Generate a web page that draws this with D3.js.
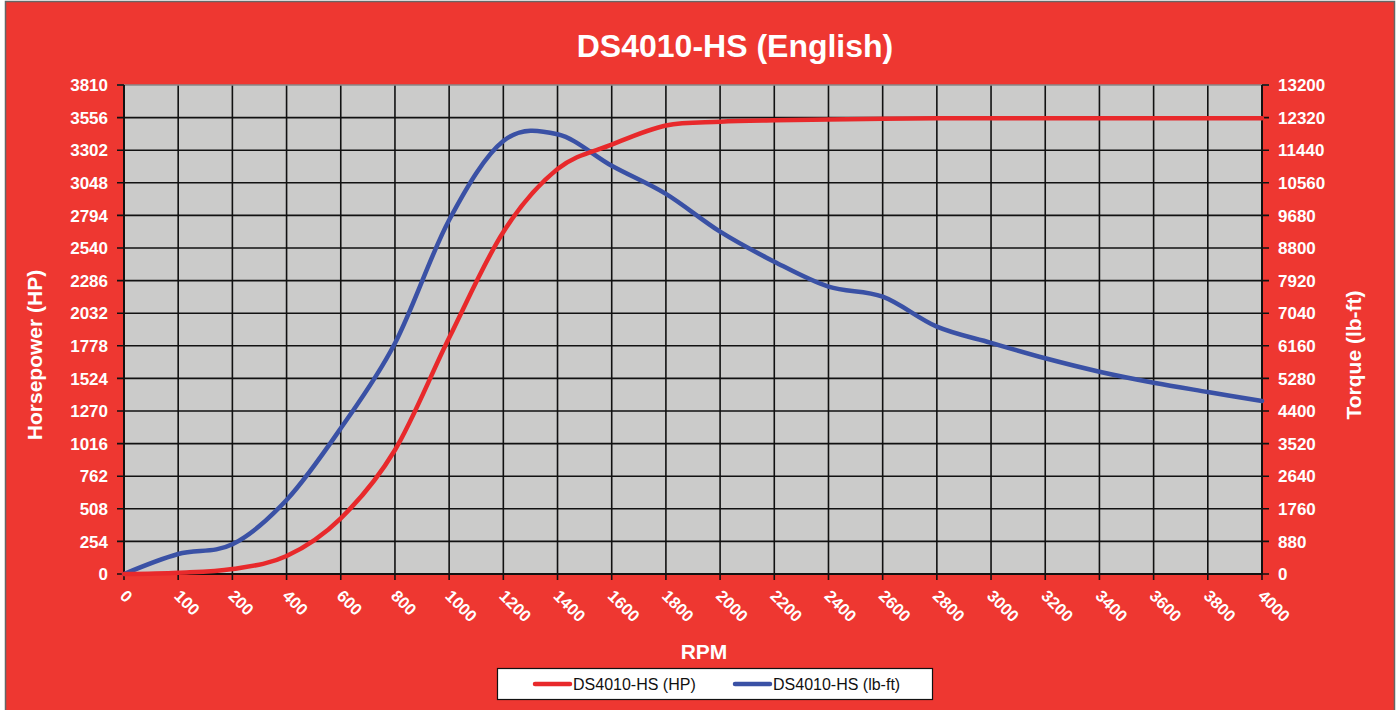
<!DOCTYPE html>
<html>
<head>
<meta charset="utf-8">
<script src="https://cdn.jsdelivr.net/npm/d3@7"></script>
<style>
  body { margin: 0; background: #fff; }
  svg text { font-family: "Liberation Sans", Arial, sans-serif; }
</style>
</head>
<body>
<svg id="chart" width="1400" height="710"></svg>
<script>
// data
const rpm = ["0", "100", "200", "400", "600", "800", "1000", "1200", "1400", "1600", "1800",
  "2000", "2200", "2400", "2600", "2800", "3000", "3200", "3400", "3600", "3800", "4000"];
const horsepower = [0, 10, 39, 140, 434, 966, 1840, 2665, 3155, 3345, 3495,
  3524, 3535, 3541, 3548, 3550, 3550, 3550, 3550, 3550, 3550, 3550];
const torque = [0, 540, 802, 1998, 3933, 6228, 9555, 11690, 11870, 11020, 10260,
  9240, 8431, 7756, 7486, 6676, 6240, 5823, 5461, 5164, 4913, 4670];
const hpTicks = [0, 254, 508, 762, 1016, 1270, 1524, 1778, 2032, 2286, 2540, 2794, 3048, 3302, 3556, 3810];
const torqueTicks = [0, 880, 1760, 2640, 3520, 4400, 5280, 6160, 7040, 7920, 8800, 9680, 10560, 11440, 12320, 13200];
const seriesNames = ["DS4010-HS (HP)", "DS4010-HS (lb-ft)"];
const seriesColors = ["#e8292b", "#3a51a5"];

const svg = d3.select("#chart");
const plotL = 124, plotR = 1262, plotT = 85, plotB = 574;
const bg = "#ee3731";

svg.append("rect")
    .attr("x", 5.5).attr("y", 1.5)
    .attr("width", 1389).attr("height", 720)
    .attr("fill", bg)
    .attr("stroke", "#666").attr("stroke-width", 1.5);

const x = d3.scalePoint().domain(rpm).range([plotL, plotR]);
const yHp = d3.scaleLinear().domain([0, 3810]).range([plotB, plotT]);
const yTq = d3.scaleLinear().domain([0, 13200]).range([plotB, plotT]);

// plot area
svg.append("rect")
    .attr("x", plotL).attr("y", plotT)
    .attr("width", plotR - plotL).attr("height", plotB - plotT)
    .attr("fill", "#cbcbca");

// grid
const grid = svg.append("g").attr("stroke", "#111").attr("stroke-width", 1.6);
grid.selectAll(".gx").data(rpm).join("line")
    .attr("x1", d => x(d)).attr("x2", d => x(d))
    .attr("y1", plotT).attr("y2", plotB + 6);
grid.selectAll(".gy").data(hpTicks).join("line")
    .attr("x1", plotL - 7).attr("x2", plotR + 7)
    .attr("y1", d => yHp(d)).attr("y2", d => yHp(d))
    .attr("stroke", d => d === 3810 ? "#888" : "#111");
// keep the tick stubs black at the top row
svg.append("line").attr("x1", plotL - 7).attr("x2", plotL).attr("y1", plotT).attr("y2", plotT)
    .attr("stroke", "#111").attr("stroke-width", 1.6);
svg.append("line").attr("x1", plotR).attr("x2", plotR + 7).attr("y1", plotT).attr("y2", plotT)
    .attr("stroke", "#111").attr("stroke-width", 1.6);
// axis lines
svg.append("line").attr("x1", plotL).attr("x2", plotL).attr("y1", plotT).attr("y2", plotB)
    .attr("stroke", "#111").attr("stroke-width", 2);
svg.append("line").attr("x1", plotR).attr("x2", plotR).attr("y1", plotT).attr("y2", plotB)
    .attr("stroke", "#111").attr("stroke-width", 2);
svg.append("line").attr("x1", plotL).attr("x2", plotR).attr("y1", plotB).attr("y2", plotB)
    .attr("stroke", "#111").attr("stroke-width", 2);

// tick labels
const lbl = svg.append("g").attr("fill", "#fff").attr("font-weight", "bold");
lbl.selectAll(".yl").data(hpTicks).join("text")
    .attr("x", 108).attr("y", d => yHp(d)).attr("dy", "0.36em").attr("font-size", 17)
    .attr("text-anchor", "end").text(d => d);
lbl.selectAll(".yr").data(torqueTicks).join("text")
    .attr("x", 1278).attr("y", d => yTq(d)).attr("dy", "0.36em").attr("font-size", 17)
    .attr("text-anchor", "start").text(d => d);
lbl.selectAll(".xl").data(rpm).join("text")
    .attr("transform", d => `translate(${x(d) - 5},597) rotate(45)`).attr("font-size", 16.5)
    .attr("text-anchor", "start").text(d => d);

// titles
svg.append("text").attr("x", 735).attr("y", 57).attr("text-anchor", "middle")
    .attr("fill", "#fff").attr("font-weight", "bold").attr("font-size", 32)
    .text("DS4010-HS (English)");
svg.append("text").attr("x", 704).attr("y", 659).attr("text-anchor", "middle")
    .attr("fill", "#fff").attr("font-weight", "bold").attr("font-size", 21)
    .text("RPM");
svg.append("text").attr("transform", "translate(42,355) rotate(-90)").attr("text-anchor", "middle")
    .attr("fill", "#fff").attr("font-weight", "bold").attr("font-size", 21)
    .text("Horsepower (HP)");
svg.append("text").attr("transform", "translate(1361,355) rotate(-90)").attr("text-anchor", "middle")
    .attr("fill", "#fff").attr("font-weight", "bold").attr("font-size", 21)
    .text("Torque (lb-ft)");

// series
const hpLine = d3.line().x((d, i) => x(rpm[i])).y(d => yHp(d)).curve(d3.curveCatmullRom.alpha(0));
const tqLine = d3.line().x((d, i) => x(rpm[i])).y(d => yTq(d)).curve(d3.curveCatmullRom.alpha(0));
svg.append("path").datum(torque).attr("d", tqLine)
    .attr("fill", "none").attr("stroke", seriesColors[1]).attr("stroke-width", 4.5)
    .attr("stroke-linecap", "round");
svg.append("path").datum(horsepower).attr("d", hpLine)
    .attr("fill", "none").attr("stroke", seriesColors[0]).attr("stroke-width", 4.5)
    .attr("stroke-linecap", "round");

// legend
const lg = svg.append("g");
lg.append("rect").attr("x", 497.5).attr("y", 668.5).attr("width", 435).attr("height", 31)
    .attr("fill", "#fff").attr("stroke", "#111").attr("stroke-width", 1.2);
const items = lg.selectAll(".li").data(seriesNames).join("g")
    .attr("transform", (d, i) => `translate(${535 + i * 200},684)`);
items.append("line").attr("x1", 0).attr("x2", 35).attr("y1", 0).attr("y2", 0)
    .attr("stroke", (d, i) => seriesColors[i]).attr("stroke-width", 4.5).attr("stroke-linecap", "round");
items.append("text").attr("x", 38).attr("dy", "0.36em").attr("font-size", 16).attr("fill", "#111")
    .text(d => d);
</script>
</body>
</html>
